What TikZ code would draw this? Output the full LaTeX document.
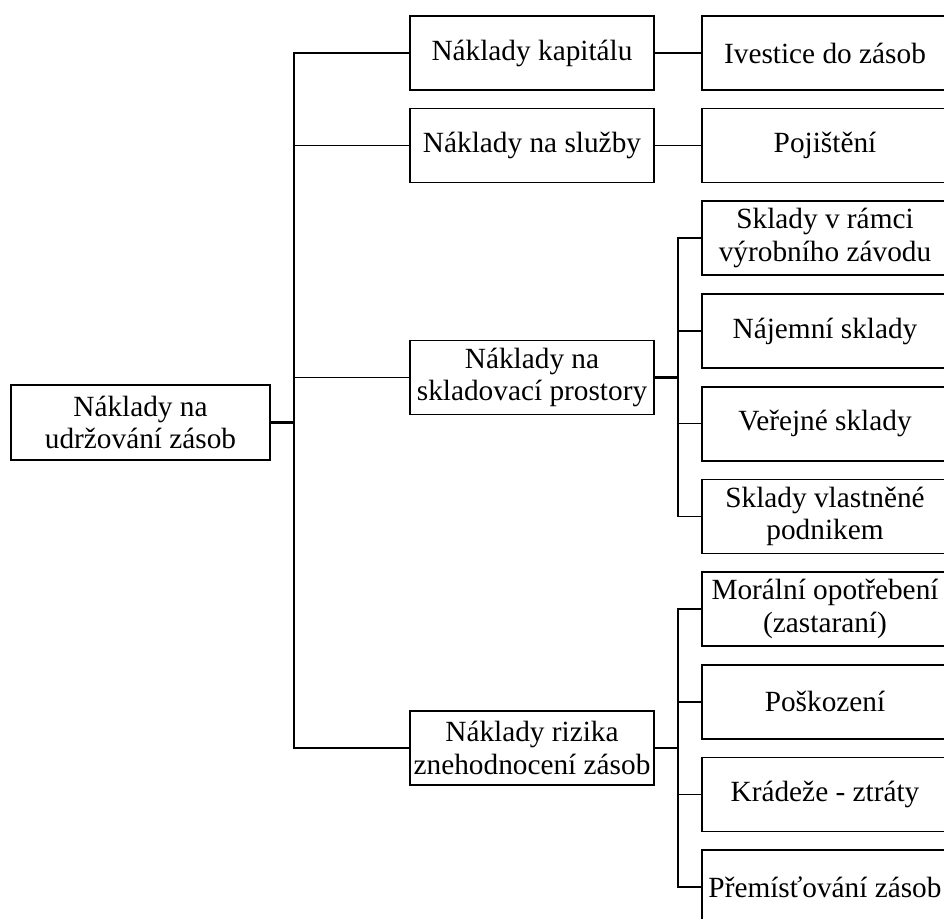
\documentclass[tikz,border=0pt]{standalone}
\usepackage{fontspec}
\setmainfont{Liberation Serif}
\begin{document}
\begin{tikzpicture}[x=1pt,y=-1pt,
  box/.style={draw, line width=1.7pt, align=center, inner sep=0pt,
    minimum height=74pt, font=\fontsize{29.3}{32.5}\selectfont},
  lvl1/.style={box, minimum width=244pt},
  lvl2/.style={box, minimum width=246pt},
  ln/.style={line width=1.5pt},
  lnroot/.style={line width=2.4pt}]
\clip (0,0) rectangle (944,918);
% root
\node[box, minimum width=259pt, minimum height=75pt] (root) at (140.5,422.5) {Náklady na\\udržování zásob};
% level 1
\node[lvl1] (n1) at (532,53) {Náklady kapitálu};
\node[lvl1] (n2) at (532,145.5) {Náklady na služby};
\node[lvl1] (n3) at (532,377.5) {Náklady na\\skladovací prostory};
\node[lvl1] (n4) at (532,748) {Náklady rizika\\znehodnocení zásob};
% level 2
\node[lvl2] (a1) at (825,53) {Ivestice do zásob};
\node[lvl2] (a2) at (825,145.5) {Pojištění};
\node[lvl2] (a3) at (825,238.2) {Sklady v rámci\\výrobního závodu};
\node[lvl2] (a4) at (825,331) {Nájemní sklady};
\node[lvl2] (a5) at (825,423.7) {Veřejné sklady};
\node[lvl2] (a6) at (825,516.4) {Sklady vlastněné\\podnikem};
\node[lvl2] (a7) at (825,609.1) {Morální opotřebení\\(zastaraní)};
\node[lvl2] (a8) at (825,701.8) {Poškození};
\node[lvl2] (a9) at (825,794.5) {Krádeže - ztráty};
\node[lvl2] (a10) at (825,887.2) {Přemísťování zásob};
% trunks
\coordinate (tr) at (294,0);
\coordinate (s) at (678,0);
\draw[lnroot] (root.east) -- (root.east -| tr);
\draw[ln] (n1.west) -- (n1.west -| tr) -- (n4.west -| tr) -- (n4.west);
\draw[ln] (n2.west -| tr) -- (n2.west);
\draw[ln] (n3.west -| tr) -- (n3.west);
% level1 to level2
\draw[ln] (n1.east) -- (a1.west);
\draw[ln] (n2.east) -- (a2.west);
\draw[lnroot] (n3.east) -- (n3.east -| s);
\draw[ln] (a3.west) -- (a3.west -| s) -- (a6.west -| s) -- (a6.west);
\draw[ln] (a4.west -| s) -- (a4.west);
\draw[ln] (a5.west -| s) -- (a5.west);
\draw[lnroot] (n4.east) -- (n4.east -| s);
\draw[ln] (a7.west) -- (a7.west -| s) -- (a10.west -| s) -- (a10.west);
\draw[ln] (a8.west -| s) -- (a8.west);
\draw[ln] (a9.west -| s) -- (a9.west);
\end{tikzpicture}
\end{document}
